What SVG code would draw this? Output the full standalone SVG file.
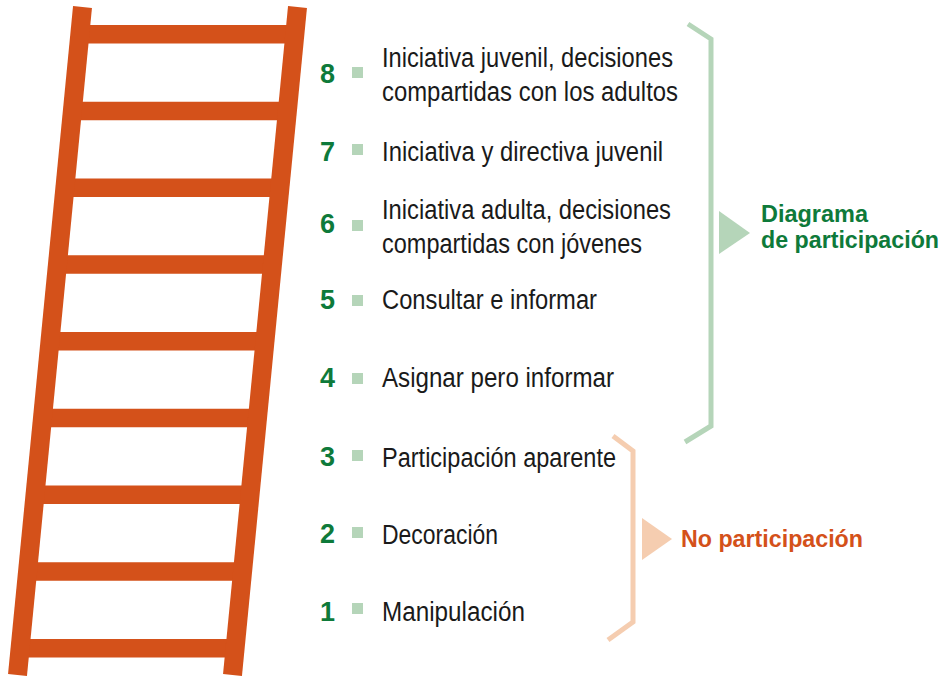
<svg xmlns="http://www.w3.org/2000/svg" width="945" height="676" viewBox="0 0 945 676">
<style>
.rail{stroke:#d4511a;stroke-width:19;stroke-linecap:butt;fill:none}
.rung{fill:#d4511a}
.num{font-family:"Liberation Sans","Arial",sans-serif;font-weight:bold;font-size:27px;fill:#0e7a3a}
.sq{fill:#b5d5b9}
.lbl{font-family:"Liberation Sans Narrow","Liberation Sans","Arial",sans-serif;font-size:27px;fill:#1a1a1a}
.grp{font-family:"Liberation Sans","Arial",sans-serif;font-weight:bold;font-size:23px}
.g{fill:#0e7a3a}
.o{fill:#d4511a}
.brg{fill:none;stroke:#b5d5b9;stroke-width:5;stroke-linejoin:miter}
.bro{fill:none;stroke:#f5cdb0;stroke-width:5;stroke-linejoin:miter}
</style>
<rect width="945" height="676" fill="#ffffff"/>
<g id="ladder">
<rect class="rung" x="79.85" y="25" width="215" height="18.5"/>
<rect class="rung" x="72.38" y="101.75" width="215" height="18.5"/>
<rect class="rung" x="64.91" y="178.5" width="215" height="18.5"/>
<rect class="rung" x="57.45" y="255.25" width="215" height="18.5"/>
<rect class="rung" x="49.98" y="332" width="215" height="18.5"/>
<rect class="rung" x="42.51" y="408.75" width="215" height="18.5"/>
<rect class="rung" x="35.04" y="485.5" width="215" height="18.5"/>
<rect class="rung" x="27.57" y="562.25" width="215" height="18.5"/>
<rect class="rung" x="20.11" y="639" width="215" height="18.5"/>
<line class="rail" x1="82.5" y1="7" x2="17.5" y2="675"/>
<line class="rail" x1="297.5" y1="7" x2="232.5" y2="675"/>
</g>
<g id="step8">
<text class="num" x="320" y="83">8</text>
<rect class="sq" x="352" y="67" width="11" height="11"/>
<text class="lbl" x="382" y="67" textLength="291" lengthAdjust="spacingAndGlyphs">Iniciativa juvenil, decisiones</text>
<text class="lbl" x="382" y="101" textLength="296" lengthAdjust="spacingAndGlyphs">compartidas con los adultos</text>
</g>
<g id="step7">
<text class="num" x="320" y="161">7</text>
<rect class="sq" x="352" y="144" width="11" height="11"/>
<text class="lbl" x="382" y="161" textLength="281" lengthAdjust="spacingAndGlyphs">Iniciativa y directiva juvenil</text>
</g>
<g id="step6">
<text class="num" x="320" y="233">6</text>
<rect class="sq" x="352" y="220" width="11" height="11"/>
<text class="lbl" x="382" y="219" textLength="289" lengthAdjust="spacingAndGlyphs">Iniciativa adulta, decisiones</text>
<text class="lbl" x="382" y="253" textLength="260" lengthAdjust="spacingAndGlyphs">compartidas con jóvenes</text>
</g>
<g id="step5">
<text class="num" x="320" y="309">5</text>
<rect class="sq" x="352" y="295" width="11" height="11"/>
<text class="lbl" x="382" y="309" textLength="215" lengthAdjust="spacingAndGlyphs">Consultar e informar</text>
</g>
<g id="step4">
<text class="num" x="320" y="387">4</text>
<rect class="sq" x="352" y="373" width="11" height="11"/>
<text class="lbl" x="382" y="387" textLength="232" lengthAdjust="spacingAndGlyphs">Asignar pero informar</text>
</g>
<g id="step3">
<text class="num" x="320" y="466">3</text>
<rect class="sq" x="352" y="450" width="11" height="11"/>
<text class="lbl" x="382" y="467" textLength="234" lengthAdjust="spacingAndGlyphs">Participación aparente</text>
</g>
<g id="step2">
<text class="num" x="320" y="543">2</text>
<rect class="sq" x="352" y="527" width="11" height="11"/>
<text class="lbl" x="382" y="544" textLength="116" lengthAdjust="spacingAndGlyphs">Decoración</text>
</g>
<g id="step1">
<text class="num" x="320" y="621">1</text>
<rect class="sq" x="352" y="603" width="11" height="11"/>
<text class="lbl" x="382" y="621" textLength="143" lengthAdjust="spacingAndGlyphs">Manipulación</text>
</g>
<g id="participacion">
<text class="grp g" x="761" y="222" textLength="107" lengthAdjust="spacingAndGlyphs">Diagrama</text>
<text class="grp g" x="761" y="248" textLength="178" lengthAdjust="spacingAndGlyphs">de participación</text>
</g>
<g id="no-participacion">
<text class="grp o" x="681" y="547" textLength="182" lengthAdjust="spacingAndGlyphs">No participación</text>
</g>
<g id="connectors">
<polyline class="brg" points="688,24 711,39 711,426 685,442"/>
<polygon fill="#b5d5b9" points="719,211 719,254 750,233"/>
<polyline class="bro" points="613,436 633,451 633,622 608,640"/>
<polygon fill="#f5cdb0" points="642,518 642,560 672,539"/>
</g>
</svg>
